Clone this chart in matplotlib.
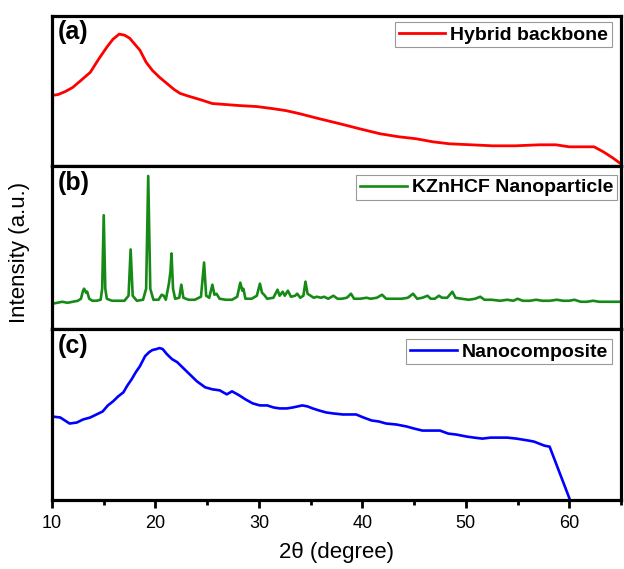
import matplotlib
matplotlib.use("Agg")
import matplotlib.pyplot as plt
from matplotlib.ticker import MultipleLocator

plt.rcParams['font.family'] = ['Liberation Sans', 'DejaVu Sans']

# (a) hybrid backbone (2theta, intensity a.u.)
hyb_x = [10.0, 10.6, 11.3, 12.0, 12.8, 13.7, 14.5, 15.3, 15.9, 16.5, 17.0, 17.5,
         18.0, 18.5, 19.1, 19.7, 20.4, 21.1, 21.8, 22.4, 23.3, 24.3, 25.5, 26.8,
         28.1, 29.8, 31.3, 32.6, 33.9, 35.8, 37.8, 39.7, 41.7, 43.5, 45.2, 46.8,
         48.4, 50.5, 52.6, 54.8, 57.1, 58.7, 60.0, 61.2, 62.4, 63.3, 64.2, 65.0]
hyb_y = [70, 71, 74, 78, 85, 93, 106, 118, 126, 131, 130, 127,
         121, 115, 103, 95, 88, 82, 76, 72, 69, 66, 62, 61,
         60, 59, 57, 55, 52, 47, 42, 37, 32, 29, 27, 24,
         22, 21, 20, 20, 21, 21, 19, 19, 19, 14, 8, 2]

# (b) KZnHCF nanoparticle
kzn_x = [10.0, 10.5, 11.0, 11.5, 12.0, 12.5, 12.8, 13.0, 13.1, 13.3, 13.4, 13.6,
         13.9, 14.3, 14.7, 14.85, 15.0, 15.15, 15.3, 15.8, 16.4, 17.0, 17.4, 17.6,
         17.8, 18.2, 18.8, 19.1, 19.3, 19.5, 19.8, 20.3, 20.6, 20.8, 21.0, 21.3,
         21.45, 21.55, 21.7, 21.9, 22.3, 22.5, 22.7, 23.2, 23.8, 24.4, 24.7, 24.9,
         25.2, 25.5, 25.7, 25.9, 26.2, 26.8, 27.4, 27.9, 28.2, 28.4, 28.5, 28.7,
         29.3, 29.8, 30.1, 30.3, 30.5, 30.8, 31.4, 31.8, 32.0, 32.3, 32.5, 32.8,
         33.1, 33.5, 33.7, 34.0, 34.3, 34.5, 34.7, 35.0, 35.3, 35.6, 36.0, 36.3,
         36.7, 37.2, 37.6, 38.0, 38.5, 38.9, 39.2, 39.8, 40.4, 40.8, 41.4, 41.9,
         42.3, 43.0, 43.8, 44.4, 44.9, 45.3, 45.8, 46.3, 46.6, 47.0, 47.4, 47.7,
         48.2, 48.7, 49.0, 49.6, 50.3, 50.9, 51.4, 51.8, 52.5, 53.3, 54.0, 54.6,
         55.0, 55.5, 56.2, 56.8, 57.4, 58.1, 58.8, 59.4, 60.0, 60.5, 61.1, 61.7,
         62.3, 62.9, 63.5, 64.1, 65.0]
kzn_y = [25, 26, 27, 26, 27, 28, 30, 38, 40, 36, 37, 30,
         28, 28, 29, 40, 113, 40, 30, 28, 28, 28, 33, 79,
         33, 28, 29, 40, 152, 40, 29, 29, 34, 33, 29, 45,
         57, 75, 40, 30, 31, 44, 31, 29, 29, 32, 66, 33,
         31, 44, 34, 35, 30, 29, 29, 32, 46, 38, 40, 30,
         30, 33, 45, 36, 34, 30, 31, 39, 33, 37, 33, 38,
         32, 33, 35, 31, 33, 47, 35, 33, 31, 32, 31, 32,
         30, 33, 30, 30, 31, 35, 30, 30, 31, 30, 31, 34,
         30, 30, 30, 31, 35, 30, 31, 33, 30, 30, 33, 31,
         31, 37, 31, 30, 29, 30, 32, 29, 29, 28, 29, 28,
         30, 28, 28, 29, 28, 28, 29, 28, 28, 29, 27, 27,
         28, 27, 27, 27, 27]

# (c) nanocomposite
nc_x = [10.0, 10.8, 11.7, 12.4, 13.0, 13.7, 14.3, 14.9, 15.4, 15.9, 16.4, 16.9,
        17.3, 17.7, 18.1, 18.5, 19.0, 19.4, 19.7, 20.1, 20.4, 20.7, 21.1, 21.6,
        22.1, 22.5, 23.0, 23.5, 24.0, 24.4, 24.8, 25.5, 26.2, 26.9, 27.4, 28.1,
        28.7, 29.4, 30.1, 30.8, 31.4, 32.0, 32.7, 33.3, 34.2, 34.7, 35.2, 35.8,
        36.5, 37.2, 38.1, 38.8, 39.4, 40.1, 40.9, 41.6, 42.3, 43.3, 44.3, 45.0,
        45.8, 46.6, 47.5, 48.3, 49.1, 50.1, 50.8, 51.6, 52.4, 53.2, 54.0, 54.9,
        55.5, 56.1, 56.6, 57.1, 57.6, 58.1, 60.0]
nc_y = [83, 82, 76, 77, 80, 82, 85, 88, 94, 98, 103, 107,
        114, 120, 127, 133, 143, 147, 149, 150, 151, 150, 145, 140,
        137, 133, 128, 123, 118, 115, 112, 110, 109, 105, 108, 104,
        100, 96, 94, 94, 92, 91, 91, 92, 94, 93, 91, 89,
        87, 86, 85, 85, 85, 82, 79, 78, 76, 75, 73, 71,
        69, 69, 69, 66, 65, 63, 62, 61, 62, 62, 62, 61,
        60, 59, 58, 56, 54, 53, 2]

xlim = (10, 65)
ylims = [(0, 149), (0, 162), (0, 170)]

fig = plt.figure(figsize=(6.24, 5.69), dpi=100)
gs = fig.add_gridspec(3, 1, height_ratios=[149, 162, 170], hspace=0,
                      left=52/624, right=621/624, top=1-16/569, bottom=1-500/569)
axes = [fig.add_subplot(gs[i]) for i in range(3)]

series = [
    (hyb_x, hyb_y, '#ff0000', 2.0, 'Hybrid backbone', '(a)', (1-9/570, 1-6/149)),
    (kzn_x, kzn_y, '#168a16', 1.9, 'KZnHCF Nanoparticle', '(b)', (1-4/570, 1-9/162)),
    (nc_x, nc_y, '#0000ff', 1.9, 'Nanocomposite', '(c)', (1-9/570, 1-10/170)),
]

for ax, (xs, ys, col, lw, lab, tag, anchor), yl in zip(axes, series, ylims):
    ax.plot(xs, ys, color=col, lw=lw, label=lab)
    ax.set_xlim(*xlim)
    ax.set_ylim(*yl)
    ax.set_yticks([])
    for sp in ax.spines.values():
        sp.set_linewidth(2.3)
    ax.text(0.01, 0.97, tag, transform=ax.transAxes, fontsize=18,
            fontweight='bold', va='top', ha='left')
    leg = ax.legend(loc='upper right', bbox_to_anchor=anchor, borderaxespad=0,
                    fancybox=False, framealpha=1, borderpad=0.2,
                    handlelength=2.4, handletextpad=0.25,
                    prop={'weight': 'bold', 'size': 14})
    leg.get_frame().set_edgecolor('#999999')
    leg.get_frame().set_linewidth(0.8)

for ax in axes[:2]:
    ax.set_xticks([])

ax = axes[2]
ax.xaxis.set_major_locator(MultipleLocator(10))
ax.xaxis.set_minor_locator(MultipleLocator(5))
ax.tick_params(axis='x', which='major', direction='out', length=6, width=2,
               labelsize=13, pad=5)
ax.tick_params(axis='x', which='minor', direction='out', length=3.5, width=2)
ax.set_xlabel('2θ (degree)', fontsize=16, labelpad=7)

fig.text(20/624, 1-252/569, 'Intensity (a.u.)', rotation=90, fontsize=16,
         ha='center', va='center')

fig.savefig('out.png', dpi=100)
